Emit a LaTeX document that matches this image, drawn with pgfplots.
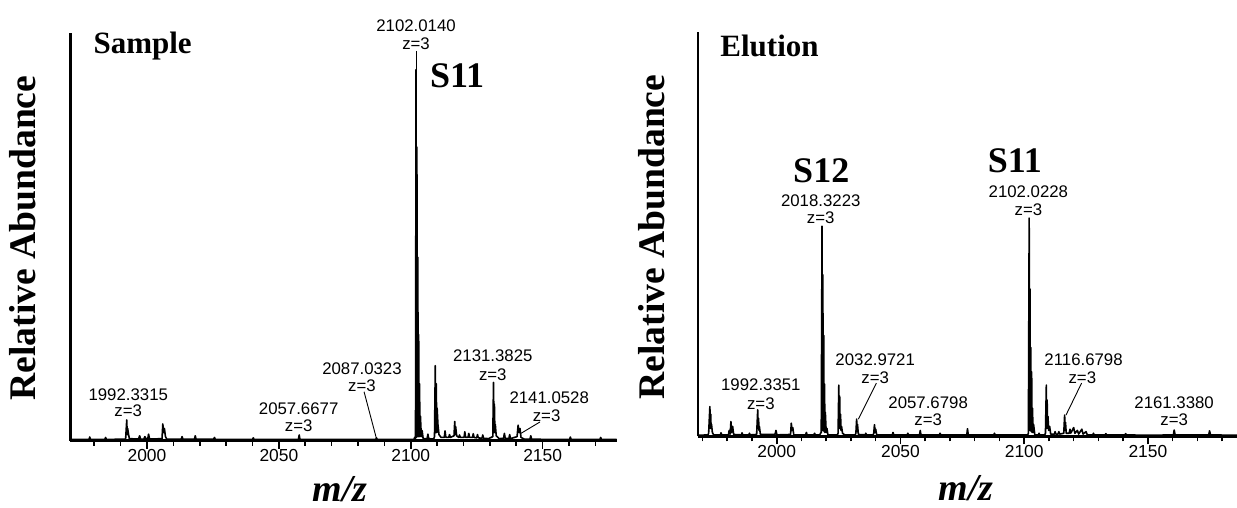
\documentclass[border=0pt]{standalone}
\usepackage{pgfplots}
\pgfplotsset{compat=1.18}
\usepackage{fontspec}
\setmainfont{Liberation Serif}
\newfontfamily\lsans{Liberation Sans}

\pgfplotstableread{
x y
1971 0.3
1978 0.3
1978.3 0.9
1978.6 0.3
1984 0.3
1984.3 0.8
1984.6 0.3
1991.9 0.4
1992.33 5.1
1992.5 1.5
1992.67 3.0
1993.0 1.6
1993.3 0.5
1996.8 0.4
1997.2 1.2
1997.6 0.4
1998.8 0.4
1999.2 1.0
1999.6 0.5
2000.3 0.5
2000.6 1.6
2001.0 0.4
2005.7 0.5
2006.0 4.1
2006.3 2.0
2006.6 3.0
2007.0 1.0
2007.5 0.4
2013.0 0.4
2013.3 1.0
2013.6 0.4
2018.0 0.4
2018.3 1.2
2018.6 0.4
2025.3 0.4
2025.6 0.8
2025.9 0.3
2040 0.3
2040.3 0.7
2040.6 0.3
2057.4 0.3
2057.7 1.4
2058.0 0.3
2086.7 0.3
2087.0 0.7
2087.3 0.3
2101.2 0.3
2101.5 0.8
2101.8 0.6
2102.0 91
2102.17 0.8
2102.33 72
2102.5 1
2102.67 45
2102.85 1
2103.0 26
2103.15 1
2103.33 14
2103.5 1
2103.67 6
2104 1
2104.3 2.5
2104.7 0.5
2106.2 0.5
2106.5 1.6
2106.8 0.5
2108.7 0.4
2109.0 1.0
2109.3 18.4
2109.5 2
2109.67 14
2109.85 2
2110.0 8
2110.3 4
2110.7 1.5
2111.5 0.8
2112.7 0.8
2113 2.4
2113.3 0.8
2114.4 0.8
2114.7 1.5
2115 0.8
2116.4 1.2
2116.67 4.7
2116.9 1.5
2117.0 3.5
2117.4 1.2
2118.2 0.8
2118.5 1.4
2118.8 0.8
2120.2 0.8
2120.5 2.2
2120.8 0.8
2121.7 0.8
2122 1.8
2122.3 0.8
2123.4 0.8
2123.7 1.7
2124.0 0.8
2125.0 0.7
2125.3 1.5
2125.6 0.7
2127.0 0.6
2127.3 1.4
2127.6 0.6
2129.5 0.5
2131.1 1.0
2131.38 14.3
2131.55 2
2131.71 9
2131.9 2
2132.05 4
2132.4 1.2
2133.5 0.5
2135.2 0.6
2135.5 1.8
2135.8 0.6
2137.2 0.5
2137.5 1.5
2137.8 0.5
2140.3 1.0
2140.7 3.8
2141.05 2.0
2141.4 3.0
2141.8 0.8
2143 0.4
2145.2 0.4
2145.5 1.2
2145.8 0.4
2152 0.3
2160.2 0.3
2160.5 0.9
2160.8 0.3
2171.7 0.3
2172 0.8
2172.3 0.3
2178 0.3
}\sampletable

\pgfplotstableread{
x y
1968.3 0.3
1972.2 0.4
1972.5 0.8
1973.0 7.4
1973.2 2
1973.33 5.5
1973.5 2
1973.67 3
1974.0 1
1974.5 0.4
1977.2 0.4
1977.5 0.9
1977.8 0.4
1980.5 0.4
1980.8 1.5
1981.2 0.6
1981.5 3.7
1981.8 1.0
1982.2 2.5
1982.6 0.5
1985.7 0.4
1986 0.9
1986.3 0.4
1988.7 0.4
1989 0.8
1989.3 0.4
1991.9 0.5
1992.33 6.6
1992.5 2
1992.67 4.5
1992.85 1.5
1993.0 2.5
1993.4 0.5
1999.3 0.5
1999.7 1.5
2000.1 0.4
2005.6 0.5
2005.9 3.3
2006.2 1.5
2006.5 2.2
2006.9 0.4
2011.7 0.4
2012 1.0
2012.3 0.4
2015.0 0.4
2015.3 0.8
2015.6 0.4
2017.4 0.4
2017.7 0.8
2018.0 1.0
2018.32 52
2018.5 1.5
2018.65 40
2018.8 1.5
2018.99 25
2019.15 1.2
2019.32 13
2019.5 1
2019.65 6
2020 1
2020.3 2
2020.7 0.4
2024.5 0.4
2024.8 0.8
2025.1 12.7
2025.3 2
2025.45 10
2025.6 2
2025.8 5.5
2026.0 1.5
2026.2 2.5
2026.6 0.8
2027.5 0.4
2031.7 0.4
2032.0 0.8
2032.3 4.3
2032.5 1.2
2032.65 3
2033.0 0.5
2035.7 0.4
2036 0.8
2036.3 0.4
2038.9 0.4
2039.2 0.7
2039.5 2.9
2039.8 1
2040.0 1.8
2040.4 0.4
2046.7 0.4
2047 1.0
2047.3 0.4
2052.7 0.4
2053 0.8
2053.3 0.4
2057.7 0.4
2058 1.5
2058.3 0.4
2065.7 0.4
2066 0.8
2066.3 0.4
2076.8 0.4
2077.1 1.9
2077.4 0.4
2087.7 0.4
2088 0.8
2088.3 0.4
2101.4 0.4
2101.7 0.8
2102.02 54
2102.2 1.5
2102.35 36.5
2102.5 1.5
2102.68 22
2102.85 1.2
2103.02 16
2103.2 1
2103.35 7
2103.6 1
2103.8 3
2104.3 0.4
2105.7 0.4
2106 0.8
2106.3 0.4
2108.3 0.4
2108.6 0.8
2108.95 12.7
2109.1 2
2109.28 9
2109.45 2
2109.6 5
2109.9 1.5
2110.3 2.5
2110.7 0.6
2112.2 0.6
2112.5 1.2
2112.8 0.6
2113.7 0.6
2114 1.2
2114.3 0.6
2116.0 0.8
2116.35 5.3
2116.55 1.5
2116.7 3.5
2117.0 0.8
2118.2 0.8
2118.5 1.8
2118.8 0.8
2120 2.2
2120.5 0.8
2121.5 1.5
2122 0.6
2123.3 1.8
2123.8 0.6
2125 1.2
2125.5 0.4
2127.7 0.4
2128 0.8
2128.3 0.4
2132.7 0.4
2133 0.7
2133.3 0.4
2140.7 0.4
2141 0.7
2141.3 0.4
2150 0.3
2160.3 0.4
2160.6 1.6
2161.0 0.4
2174.6 0.4
2174.9 1.4
2175.3 0.4
2186 0.3
}\elutiontable

\pgfplotsset{
  msaxis/.style={
    scale only axis,
    axis x line=bottom, axis y line=left,
    axis line style={-, line width=1.4pt},
    ymin=0, ymax=100,
    ytick=\empty,
    xtick={2000,2050,2100,2150},
    xticklabels={2000,2050,2100,2150},
    minor xtick={1970,1980,1990,2010,2020,2030,2040,2060,2070,2080,2090,2110,2120,2130,2140,2160,2170,2180},
    tick align=outside,
    major tick length=4pt,
    minor tick length=2.5pt,
    every tick/.style={black, line width=0.8pt},
    xticklabel style={font=\lsans\fontsize{8.7}{9}\selectfont, inner sep=0pt, anchor=north},
    clip=false,
    ylabel={Relative Abundance},
    xlabel={\textit{m/z}},
    ylabel style={font=\bfseries\fontsize{18.8}{20}\selectfont, anchor=center},
    xlabel style={font=\bfseries\itshape\fontsize{19}{21}\selectfont, anchor=base},
  },
  spec/.style={black, line width=0.8pt, mark=none, line join=round},
}
\tikzset{
  ann/.style={font=\lsans\fontsize{8.4}{9}\selectfont, inner sep=0pt, anchor=center},
  big/.style={font=\bfseries\fontsize{18}{20}\selectfont, inner sep=0pt, anchor=center},
  ttl/.style={font=\bfseries\fontsize{15.5}{18}\selectfont, inner sep=0pt, anchor=west},
  lead/.style={black, line width=0.45pt},
}

\begin{document}
\begin{tikzpicture}
\useasboundingbox (0,0) rectangle (618.5pt,254pt);

\begin{axis}[msaxis,
  at={(35.25pt,33.65pt)}, anchor=south west,
  width=273pt, height=203.85pt,
  xmin=1971, xmax=2178,
  ylabel style={at={(axis description cs:-0.087,0.497)}},
  xlabel style={at={(axis description cs:0.494,-0.148)}},
]
\addplot[spec] table[x=x,y=y] {\sampletable};
\node[ttl] at (axis cs:1979.6,96.8) {Sample};
\node[big] at (axis cs:2117.6,89.6) {S11};
\node[ann] at (axis cs:1992.9,11.4) {1992.3315};
\node[ann] at (axis cs:1992.9,7.3) {z=3};
\node[ann] at (axis cs:2057.5,7.8) {2057.6677};
\node[ann] at (axis cs:2057.5,3.7) {z=3};
\node[ann] at (axis cs:2081.5,17.6) {2087.0323};
\node[ann] at (axis cs:2081.5,13.5) {z=3};
\draw[lead] (axis cs:2082.3,12) -- (axis cs:2087,0.5);
\node[ann] at (axis cs:2102,101.9) {2102.0140};
\node[ann] at (axis cs:2102,97.3) {z=3};
\draw[lead] (axis cs:2102,95.6) -- (axis cs:2102,90);
\node[ann] at (axis cs:2131.1,20.8) {2131.3825};
\node[ann] at (axis cs:2131.1,16.3) {z=3};
\node[ann] at (axis cs:2152.5,10.6) {2141.0528};
\node[ann] at (axis cs:2151.5,6.1) {z=3};
\draw[lead] (axis cs:2149,4.6) -- (axis cs:2141.8,1.8);
\end{axis}

\begin{axis}[msaxis,
  at={(349pt,35.75pt)}, anchor=south west,
  width=269.5pt, height=202.25pt,
  xmin=1968.2, xmax=2186,
  ylabel style={at={(axis description cs:-0.0853,0.493)}},
  xlabel style={at={(axis description cs:0.497,-0.159)}},
]
\addplot[spec] table[x=x,y=y] {\elutiontable};
\node[ttl] at (axis cs:1977.1,96.5) {Elution};
\node[big] at (axis cs:2018.0,65.8) {S12};
\node[big] at (axis cs:2096.2,68.2) {S11};
\node[ann] at (axis cs:1993.6,12.7) {1992.3351};
\node[ann] at (axis cs:1993.6,8.2) {z=3};
\node[ann] at (axis cs:2017.8,58.3) {2018.3223};
\node[ann] at (axis cs:2017.8,54.1) {z=3};
\node[ann] at (axis cs:2039.8,18.9) {2032.9721};
\node[ann] at (axis cs:2039.8,14.5) {z=3};
\draw[lead] (axis cs:2040.3,13.2) -- (axis cs:2033,4.3);
\node[ann] at (axis cs:2061.2,8.4) {2057.6798};
\node[ann] at (axis cs:2061.2,4.1) {z=3};
\node[ann] at (axis cs:2101.7,60.4) {2102.0228};
\node[ann] at (axis cs:2101.7,56.0) {z=3};
\node[ann] at (axis cs:2124,18.9) {2116.6798};
\node[ann] at (axis cs:2123.5,14.5) {z=3};
\draw[lead] (axis cs:2123.2,13.2) -- (axis cs:2116.9,5.3);
\node[ann] at (axis cs:2160.6,8.4) {2161.3380};
\node[ann] at (axis cs:2160.6,4.1) {z=3};
\end{axis}
\end{tikzpicture}
\end{document}
